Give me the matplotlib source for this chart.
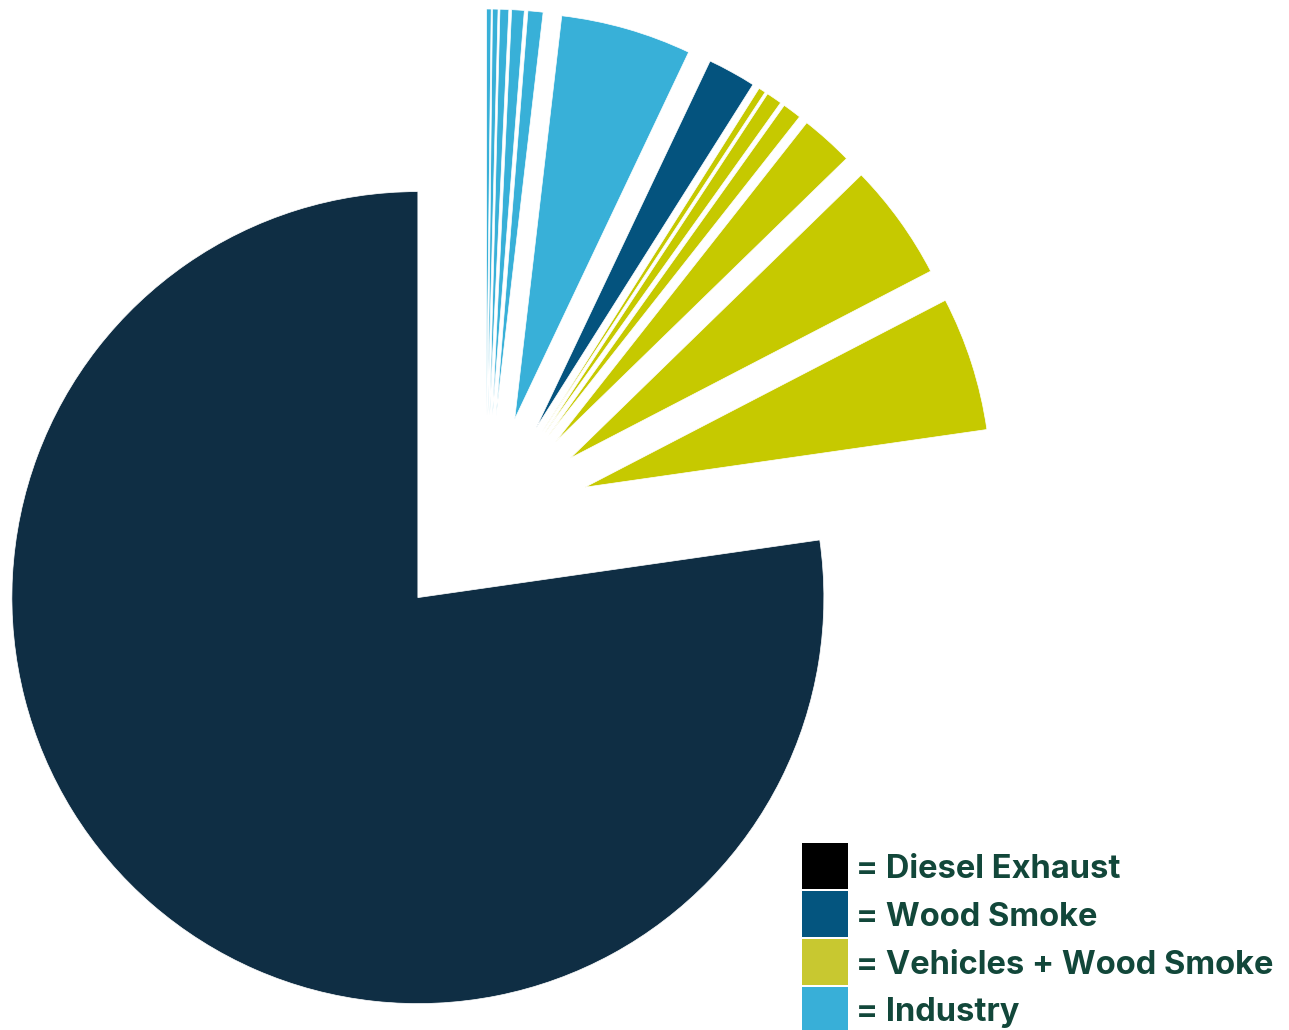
import matplotlib.pyplot as plt
from matplotlib.patches import Rectangle

# share of samples per source, clockwise from 12 o'clock
shares = [0.18, 0.22, 0.35, 0.50, 0.60, 5.20, 1.92,
          0.28, 0.62, 0.75, 2.10, 4.67, 5.35, 77.30]
sources = ['Industry'] * 6 + ['Wood Smoke'] + ['Vehicles + Wood Smoke'] * 6 + ['Diesel Exhaust']

slice_colors = {
    'Diesel Exhaust': '#0f2e44',
    'Wood Smoke': '#04537e',
    'Vehicles + Wood Smoke': '#c6c900',
    'Industry': '#38b0d8',
}
legend_labels = ['Diesel Exhaust', 'Wood Smoke', 'Vehicles + Wood Smoke', 'Industry']
legend_colors = ['#000000', '#04557f', '#c8c830', '#38afd8']

W, H = 1289, 1030
fig = plt.figure(figsize=(W / 100, H / 100), dpi=100)
ax = fig.add_axes([0, 0, 1, 1])

# pixel geometry of the pie
cx, cy, r = 486, 519, 406

ax.pie(shares,
       colors=[slice_colors[s] for s in sources],
       explode=[104 / r] * len(shares),
       startangle=90, counterclock=False, radius=1,
       wedgeprops=dict(edgecolor='white', linewidth=0.5))

# pie() resets the limits, so pin them afterwards
ax.set_aspect('auto')
ax.set_xlim(-cx / r, (W - cx) / r)
ax.set_ylim(-(H - cy) / r, cy / r)
ax.axis('off')

# legend drawn by hand: squares stacked with a thin white gap
box = 46
x0, y0 = 802, 843
for i, (lab, col) in enumerate(zip(legend_labels, legend_colors)):
    top = y0 + i * (box + 2)
    fig.patches.append(Rectangle((x0 / W, 1 - (top + box) / H), box / W, box / H,
                                 transform=fig.transFigure, facecolor=col,
                                 edgecolor='none'))
    fig.text((x0 + box + 8) / W, 1 - (top + box / 2 + 3) / H, '= ' + lab,
             ha='left', va='center', fontsize=23.5, fontweight='bold',
             family='Inter', color='#12473a')

fig.savefig('out.png', dpi=100)
